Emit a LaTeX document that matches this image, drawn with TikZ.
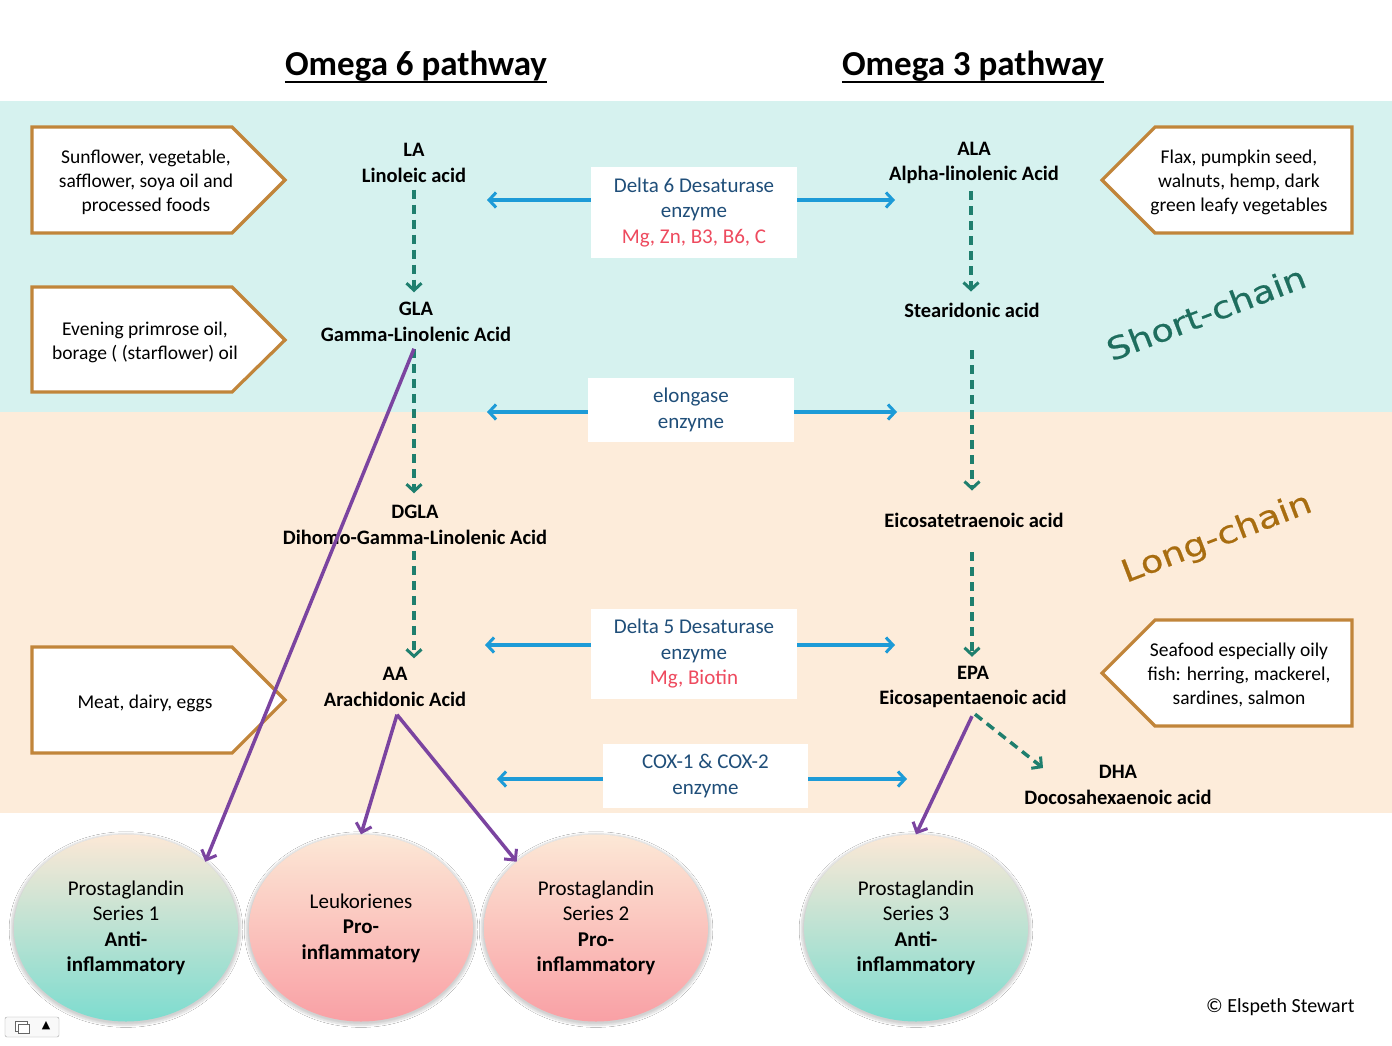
\documentclass[tikz,border=0pt]{standalone}
\usepackage{fontspec}
\setmainfont{Carlito}
\newfontfamily\dejavu{DejaVu Sans}
\newfontfamily\chainfont[FakeStretch=1.18,FakeBold=0.6]{DejaVu Sans}
\usetikzlibrary{arrows.meta,shapes.geometric,shadows.blur,calc}
\definecolor{tealband}{HTML}{D6F2EF}
\definecolor{peachband}{HTML}{FDECDA}
\definecolor{bluearr}{HTML}{1D9BD7}
\definecolor{greenarr}{HTML}{1F7F6E}
\definecolor{purplearr}{HTML}{7B44A0}
\definecolor{brownbd}{HTML}{C1853A}
\definecolor{enzblue}{HTML}{1F4E79}
\definecolor{enzred}{HTML}{EE4A5E}
\definecolor{shortc}{HTML}{1E6E5E}
\definecolor{longc}{HTML}{A86D10}
\definecolor{peachtop}{HTML}{FCE8D6}
\definecolor{tealbot}{HTML}{7DDCCF}
\definecolor{pinkbot}{HTML}{F9A0A5}
\tikzset{
  x=1pt,y=-1pt,
  body/.style={font=\fontsize{19.5}{24}\selectfont, align=center, inner sep=0pt},
  chem/.style={font=\bfseries\fontsize{20.5}{25.5}\selectfont, align=center, inner sep=3pt},
  enzbox/.style={fill=white, draw=none, font=\fontsize{21}{25.5}\selectfont, text=enzblue, align=center},
  srcbox/.style={draw=brownbd, line width=3.2pt, fill=white, line join=miter},
  bluearrow/.style={draw=bluearr, line width=3.5pt, -{Straight Barb[length=7pt,width=15pt,line width=3pt]}},
  greenarrow/.style={draw=greenarr, line width=3.5pt, dash pattern=on 9pt off 6pt, -{Straight Barb[length=7pt,width=15pt,line width=3pt]}},
  purplearrow/.style={draw=purplearr, line width=3.5pt, -{Straight Barb[length=8pt,width=16pt,line width=3pt]}},
  outcome/.style={ellipse, minimum width=224pt, minimum height=187pt, inner sep=0pt,
     font=\fontsize{21}{25.5}\selectfont, align=center,
     blur shadow={shadow xshift=0pt, shadow yshift=-1.5pt, shadow scale=1.025, shadow blur steps=8, shadow opacity=18}},
  antiell/.style={outcome, top color=peachtop, bottom color=tealbot},
  proell/.style={outcome, top color=peachtop, bottom color=pinkbot},
  title/.style={font=\bfseries\fontsize{35}{40}\selectfont, inner sep=0pt},
}
\begin{document}
\begin{tikzpicture}
\useasboundingbox (0,0) rectangle (1392,1045);
\fill[white] (0,0) rectangle (1392,1045);
% bands
\fill[tealband] (0,101) rectangle (1392,412);
\fill[peachband] (0,412) rectangle (1392,813);

% titles
\node[title] (t6) at (416,66) {Omega 6 pathway};
\draw[line width=2pt] ($(t6.south west)+(0,1)$) -- ($(t6.south east)+(0,1)$);
\node[title] (t3) at (973,66) {Omega 3 pathway};
\draw[line width=2pt] ($(t3.south west)+(0,1)$) -- ($(t3.south east)+(0,1)$);

% source boxes (left, pointing right)
\draw[srcbox] (32,127) -- (232,127) -- (285,180) -- (232,233) -- (32,233) -- cycle;
\node[body] (s1) at (146,182) {Sunflower, vegetable,\\safflower, soya oil and\\processed foods};
\draw[srcbox] (32,287) -- (232,287) -- (285,340) -- (232,392) -- (32,392) -- cycle;
\node[body] (s2) at (145,342) {Evening primrose oil,\\borage ( (starflower) oil};
\draw[srcbox] (32,647) -- (232,647) -- (285,700) -- (232,753) -- (32,753) -- cycle;
\node[body] (s3) at (145,703) {Meat, dairy, eggs};
% source boxes (right, pointing left)
\draw[srcbox] (1352,127) -- (1155,127) -- (1102,180) -- (1155,233) -- (1352,233) -- cycle;
\node[body] (s4) at (1239,182) {Flax, pumpkin seed,\\walnuts, hemp, dark\\green leafy vegetables};
\draw[srcbox] (1352,620) -- (1155,620) -- (1102,673) -- (1155,726) -- (1352,726) -- cycle;
\node[body] (s5) at (1239,675) {Seafood especially oily\\fish: herring, mackerel,\\sardines, salmon};

% chemical nodes
\node[chem] (LA) at (414,163) {LA\\Linoleic acid};
\node[chem] (ALA) at (974,163) {ALA\\Alpha-linolenic Acid};
\node[chem] (GLA) at (416,322) {GLA\\Gamma-Linolenic Acid};
\node[chem] (SDA) at (972,310) {Stearidonic acid};
\node[chem] (DGLA) at (415,525) {DGLA\\Dihomo-Gamma-Linolenic Acid};
\node[chem] (ETA) at (974,520) {Eicosatetraenoic acid};
\node[chem] (AA) at (395,687) {AA\\Arachidonic Acid};
\node[chem] (EPA) at (973,687) {EPA\\Eicosapentaenoic acid};
\node[chem] (DHA) at (1118,785) {DHA\\Docosahexaenoic acid};

% enzyme boxes
\node[enzbox, minimum width=206pt, minimum height=91pt] (D6) at (694,212.5) {Delta 6 Desaturase\\enzyme\\\textcolor{enzred}{Mg, Zn, B3, B6, C}};
\node[enzbox, minimum width=206pt, minimum height=64pt] (EL) at (691,410) {elongase\\enzyme};
\node[enzbox, minimum width=206pt, minimum height=90pt] (D5) at (694,654) {Delta 5 Desaturase\\enzyme\\\textcolor{enzred}{Mg, Biotin}};
\node[enzbox, minimum width=205pt, minimum height=64pt] (COX) at (705.5,776) {COX-1 \& COX-2\\enzyme};

% blue arrows
\coordinate (d6L) at (487,200); \coordinate (d6R) at (895,200);
\coordinate (elL) at (487,412); \coordinate (elR) at (897,412);
\coordinate (d5L) at (485,645); \coordinate (d5R) at (895,645);
\coordinate (cxL) at (497,779); \coordinate (cxR) at (907,779);
\draw[bluearrow] (D6.west |- d6L) -- (d6L);
\draw[bluearrow] (D6.east |- d6R) -- (d6R);
\draw[bluearrow] (EL.west |- elL) -- (elL);
\draw[bluearrow] (EL.east |- elR) -- (elR);
\draw[bluearrow] (D5.west |- d5L) -- (d5L);
\draw[bluearrow] (D5.east |- d5R) -- (d5R);
\draw[bluearrow] (COX.west |- cxL) -- (cxL);
\draw[bluearrow] (COX.east |- cxR) -- (cxR);

% green dashed arrows
\draw[greenarrow] ($(LA.south)+(0,4)$) -- ($(GLA.north)+(-2,-7)$);
\draw[greenarrow] ($(GLA.south)+(-2,4)$) -- ($(DGLA.north)+(-1,-9)$);
\draw[greenarrow] ($(DGLA.south)+(-1,3)$) -- ($(AA.north)+(19,-6)$);
\draw[greenarrow] ($(ALA.south)+(-3,4)$) -- ($(SDA.north)+(-1,-8)$);
\draw[greenarrow] ($(SDA.south)+(0,30)$) -- ($(ETA.north)+(-2,-19)$);
\draw[greenarrow] ($(ETA.south)+(-2,22)$) -- ($(EPA.north)+(-1,-6)$);
\coordinate (dhaIn) at (1043,768);
\draw[greenarrow] ($(EPA.south)+(2,3)$) -- (dhaIn);

% outcome ellipses
\node[antiell] (PG1) at (126,928) {Prostaglandin\\Series 1\\\textbf{Anti-}\\\textbf{inflammatory}};
\node[proell] (LT) at (361,928) {Leukorienes\\\textbf{Pro-}\\\textbf{inflammatory}};
\node[proell] (PG2) at (596,928) {Prostaglandin\\Series 2\\\textbf{Pro-}\\\textbf{inflammatory}};
\node[antiell] (PG3) at (916,928) {Prostaglandin\\Series 3\\\textbf{Anti-}\\\textbf{inflammatory}};

% purple arrows
\draw[purplearrow] ($(GLA.south)+(-2,4)$) -- (PG1.north east);
\draw[purplearrow] ($(AA.south)+(2,5)$) -- (LT.north);
\draw[purplearrow] ($(AA.south)+(2,5)$) -- (PG2.north west);
\draw[purplearrow] ($(EPA.south)+(-1,5)$) -- (PG3.north);

% chain labels
\node[font=\chainfont\fontsize{31}{31}\selectfont, text=shortc, rotate=21, inner sep=0pt] (short) at (1206,313) {Short-chain};
\node[font=\chainfont\fontsize{31}{31}\selectfont, text=longc, rotate=21, inner sep=0pt] (long) at (1217,539) {Long-chain};

% copyright
\node[font=\fontsize{20}{24}\selectfont, anchor=east] (copy) at (1358,1007) {© Elspeth Stewart};

% slideshow control
\node[draw=gray!70, rounded corners=2pt, fill=gray!5, minimum width=54pt, minimum height=20pt, inner sep=0pt] (ctrl) at (32,1027) {};
\draw[gray!80!black, line width=0.6pt, fill=white] (15,1021) rectangle (27,1031);
\draw[gray!80!black, line width=0.6pt, fill=white] (18,1024) rectangle (29,1033);
\node[font=\dejavu\fontsize{11}{11}\selectfont] (tri) at (46,1026) {▲};
\end{tikzpicture}
\end{document}
